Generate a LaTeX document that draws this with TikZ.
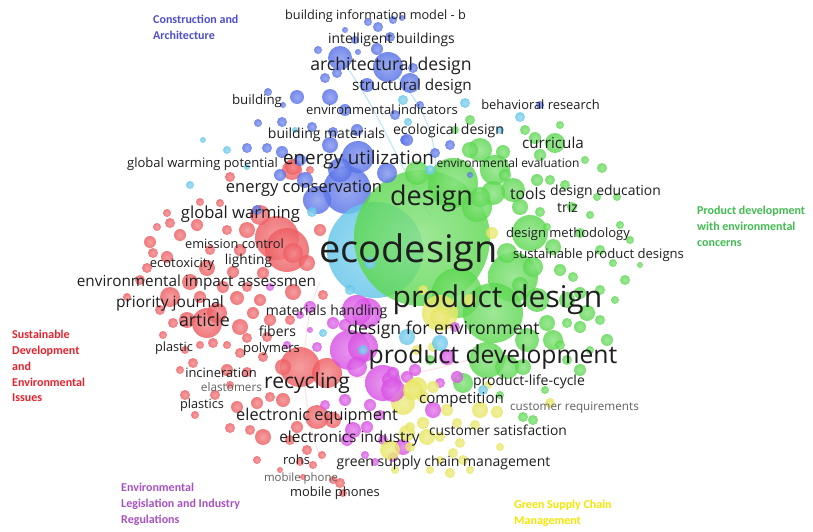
\documentclass[tikz,border=0pt]{standalone}
\usepackage{fontspec}
\usepackage{xcolor}
\usepackage{tikz}
\setmainfont{Open Sans}
\newfontfamily\clusterfont{Carlito}

\definecolor{vosred}{RGB}{238,92,96}
\definecolor{vosblue}{RGB}{86,112,232}
\definecolor{vosgreen}{RGB}{92,216,80}
\definecolor{vosyellow}{RGB}{232,230,96}
\definecolor{vospurple}{RGB}{216,80,228}
\definecolor{voscyan}{RGB}{100,198,234}
\definecolor{kwtext}{RGB}{30,30,30}
\definecolor{kwgrey}{RGB}{96,96,96}
\definecolor{cltblue}{RGB}{78,78,204}
\definecolor{cltred}{RGB}{232,34,44}
\definecolor{cltgreen}{RGB}{64,188,80}
\definecolor{cltpurple}{RGB}{168,82,194}
\definecolor{cltyellow}{RGB}{244,230,0}

\tikzset{
  bubble/.style={inner color=#1!72!white, outer color=#1, opacity=0.82},
  kw/.style={font=\fontsize{#1}{#1}\selectfont, text=kwtext, inner sep=0pt,
    anchor=base, yshift=-1.5pt},
  kwlight/.style={kw=#1, text=kwgrey},
  cluster/.style={font=\clusterfont\bfseries\fontsize{12}{15.8}\selectfont,
    align=left, inner sep=0pt, anchor=north west},
  link/.style={draw=#1, line width=1.2pt, opacity=0.4}
}

\begin{document}
\begin{tikzpicture}[x=1pt,y=-1pt]
\fill[white] (0,0) rectangle (813,532);
\useasboundingbox (0,0) rectangle (813,532);

% faint links
\coordinate (archd) at (388,67);
\coordinate (archl) at (340,58);
\coordinate (ecod) at (430,215);
\coordinate (recyc) at (300,367);
\coordinate (proddev) at (505,352);
\coordinate (eia) at (320,282);
\coordinate (mobile) at (322,462);
\draw[link=voscyan] (archd) .. controls (430,110) and (445,150) .. (ecod);
\draw[link=voscyan] (archl) .. controls (380,110) and (395,160) .. (ecod);
\draw[link=vosred!40] (recyc) .. controls (390,395) and (450,360) .. (proddev);
\draw[link=vosred!40] (eia) .. controls (298,330) and (300,410) .. (mobile);

% large bubbles
\foreach \x/\y/\r in {277/238/22, 287/250/22, 300/367/20, 327/373/15, 207/323/15}
  \shade[bubble=vosred] (\x,\y) circle [radius=\r pt];
\foreach \x/\y/\r in {347/190/24, 358/157/16, 388/67/15, 317/200/14, 340/58/12, 340/170/12}
  \shade[bubble=vosblue] (\x,\y) circle [radius=\r pt];
\shade[bubble=voscyan] (375,250) circle [radius=48pt];
\foreach \x/\y/\r in {422/238/68, 453/183/25, 457/293/25, 513/277/25, 493/313/30, 487/360/18, 530/233/18}
  \shade[bubble=vosgreen] (\x,\y) circle [radius=\r pt];
\foreach \x/\y/\r in {350/350/20, 383/383/18, 367/313/15, 363/347/15, 357/310/15}
  \shade[bubble=vospurple] (\x,\y) circle [radius=\r pt];
\foreach \x/\y/\r in {440/313/18, 403/403/12}
  \shade[bubble=vosyellow] (\x,\y) circle [radius=\r pt];

% small bubbles
\foreach \x/\y/\r in {230/177/5, 292/170/10, 310/170/4, 293/167/8, 167/213/4, 200/202/4,
  220/203/4, 157/227/4, 170/223/5, 180/235/6, 150/242/6, 197/225/6, 227/230/5, 247/230/8,
  263/273/6, 293/253/10, 307/263/8, 153/253/5, 167/257/6, 147/268/5, 207/268/8, 233/272/6,
  190/282/8, 223/287/6, 247/287/5, 140/280/5, 127/297/4, 170/297/10, 200/297/6, 237/298/7,
  260/300/6, 293/292/8, 323/295/5, 217/313/10, 187/320/8, 240/327/8, 253/313/6, 163/335/4,
  173/323/5, 200/345/4, 213/343/5, 227/345/4, 247/338/5, 267/337/5, 240/353/5, 263/357/5,
  180/370/4, 193/363/5, 227/370/6, 247/372/5, 283/367/8, 237/407/6, 257/403/6, 270/397/5,
  283/400/7, 317/417/12, 333/420/8, 263/437/8, 250/430/5, 230/428/5, 290/440/5, 307/450/5,
  322/455/4, 297/427/6, 333/480/4, 340/483/5, 343/493/4, 303/477/3, 260/215/10, 240/250/6,
  210/250/5, 185/395/5, 215/395/5, 195/415/4, 230/385/4, 185/350/4, 160/310/5, 320/230/6,
  270/320/6, 290/320/5, 257/460/4, 300/462/4, 280/470/3, 313/465/4}
  \shade[bubble=vosred] (\x,\y) circle [radius=\r pt];
\foreach \x/\y/\r in {368/22/4, 378/27/5, 393/20/4, 402/18/3, 377/49/6, 390/37/5, 318/50/4,
  358/52/3, 325/78/5, 337/73/5, 413/68/5, 410/83/10, 367/85/7, 297/97/7, 330/97/8, 268/92/4,
  283/105/3, 258/123/4, 282/122/5, 312/127/5, 357/130/6, 333/132/5, 405/140/5, 247/148/5,
  267/148/5, 282/152/6, 387/173/10, 407/140/6, 450/145/5, 435/153/5, 470/175/3, 540/105/4,
  257/210/5, 305/180/8, 330/145/8, 345/110/6, 300/160/6, 280/175/6, 395/115/5, 420/105/4,
  355/40/4, 345/30/3}
  \shade[bubble=vosblue] (\x,\y) circle [radius=\r pt];
\foreach \x/\y/\r in {417/173/12, 525/130/5, 555/143/10, 535/138/6, 480/150/12, 470/150/8,
  503/152/7, 495/170/15, 602/168/5, 537/180/6, 550/180/5, 513/190/12, 493/193/12, 477/207/15,
  520/207/8, 540/212/5, 597/197/4, 617/197/4, 572/207/5, 507/253/10, 547/227/4, 553/247/8,
  580/233/5, 600/250/5, 613/263/4, 533/267/10, 560/270/6, 573/277/5, 537/300/12, 567/300/8,
  580/293/6, 587/313/8, 600/320/5, 607/340/6, 580/327/6, 547/323/8, 567/323/5, 553/340/10,
  527/340/12, 507/367/12, 523/367/8, 580/370/6, 567/360/5, 463/383/10, 523/417/5, 533/420/5,
  480/197/10, 540/155/6, 560/125/4, 585/160/4, 620/225/4, 630/240/4, 625/280/5, 640/265/3,
  600/290/5, 615/300/4, 560/345/5, 590/350/4, 545/390/4, 500/395/4, 470/120/5, 455/130/4,
  430/360/5, 520/285/8, 590/215/4, 565/185/5, 505/175/6}
  \shade[bubble=vosgreen] (\x,\y) circle [radius=\r pt];
\foreach \x/\y/\r in {310/307/6, 333/323/6, 317/347/5, 357/367/10, 390/380/8, 440/383/5,
  353/430/8, 367/427/6, 347/440/6, 383/440/5, 403/447/8, 447/357/8, 393/373/6, 393/390/12,
  407/377/6, 457/377/6, 433/410/8, 393/457/5, 455/327/5, 270/287/4, 325/405/5, 345/400/6,
  370/405/6, 380/415/5, 415/370/6, 345/325/6, 300/315/4, 287/345/4, 310/330/3, 365/455/4,
  375/462/4}
  \shade[bubble=vospurple] (\x,\y) circle [radius=\r pt];
\foreach \x/\y/\r in {492/233/6, 417/387/10, 423/397/6, 417/350/5, 413/390/10, 433/387/6,
  447/410/6, 480/410/8, 497/412/6, 457/423/5, 423/423/6, 407/433/8, 440/437/5, 460/443/5,
  550/403/5, 453/453/5, 463/460/5, 450/473/5, 410/447/5, 433/347/5, 423/290/5, 440/317/10,
  390/450/10, 410/427/5, 427/437/8, 470/300/6, 475/425/5, 440/460/4, 500/447/4, 430/470/4,
  395/470/4, 470/470/4, 488/385/4}
  \shade[bubble=vosyellow] (\x,\y) circle [radius=\r pt];
\foreach \x/\y/\r in {203/140/3, 227/150/4, 247/167/3, 190/185/4, 465/103/5, 520/117/5,
  403/100/5, 483/390/5, 440/343/8, 407/337/8, 323/333/4, 363/350/5, 350/290/5, 370/263/6,
  408/122/4, 295/130/3, 312/212/5, 430/170/5, 500/130/4}
  \shade[bubble=voscyan] (\x,\y) circle [radius=\r pt];

% keyword labels
\node[kw=12.7] (bim) at (375.5,18.4) {building information model - b};
\node[kw=13.9] (intell) at (391.5,41.8) {intelligent buildings};
\node[kw=17.6] (archdes) at (391,68.8) {architectural design};
\node[kw=15.3] (structdes) at (412,89.1) {structural design};
\node[kw=13.3] (building) at (257,102.6) {building};
\node[kw=13] (envind) at (382,112.5) {environmental indicators};
\node[kw=12.9] (behav) at (540.5,108.5) {behavioral research};
\node[kw=14] (buildmat) at (326.5,136.8) {building materials};
\node[kw=14] (ecolog) at (448.5,132.8) {ecological design};
\node[kw=15.2] (curric) at (553,147.1) {curricula};
\node[kw=13] (gwp) at (202.5,165.5) {global warming potential};
\node[kw=18.8] (energyutil) at (358.5,163.1) {energy utilization};
\node[kw=12] (enveval) at (508,166.2) {environmental evaluation};
\node[kw=16.5] (energycons) at (304,190.5) {energy conservation};
\node[kw=27] (design) at (431.5,204.3) {design};
\node[kw=15.7] (tools) at (528,198.2) {tools};
\node[kw=13.9] (desedu) at (605.5,193.8) {design education};
\node[kw=14] (triz) at (567.5,210.8) {triz};
\node[kw=16.6] (gw) at (240.5,216.5) {global warming};
\node[kw=38] (ecodesign) at (408.5,261) {ecodesign};
\node[kw=13] (desmeth) at (568,235.5) {design methodology};
\node[kw=13.1] (sustprod) at (598.5,256.5) {sustainable product designs};
\node[kw=12.8] (emission) at (234.5,246.5) {emission control};
\node[kw=13] (ecotox) at (182,265.5) {ecotoxicity};
\node[kw=13.7] (lighting) at (248.5,262.7) {lighting};
\node[kw=15.3] (envimpact) at (196.5,285.1) {environmental impact assessmen};
\node[kw=30] (proddes) at (497.5,306) {product design};
\node[kw=15.5] (priority) at (170,306.2) {priority journal};
\node[kw=14] (mathand) at (326.5,313.8) {materials handling};
\node[kw=17.8] (article) at (204.5,324.8) {article};
\node[kw=17.6] (dfe) at (443.5,332.8) {design for environment};
\node[kw=14] (fibers) at (277.5,334.8) {fibers};
\node[kw=12.7] (plastic) at (174,350.4) {plastic};
\node[kw=13.1] (polymers) at (271.5,350.5) {polymers};
\node[kw=24.7] (proddevel) at (493,361.7) {product development};
\node[kw=14] (plc) at (529,383.8) {product-life-cycle};
\node[kw=12.9] (incin) at (221,375.5) {incineration};
\node[kwlight=11.8] (elast) at (231.5,390.2) {elastomers};
\node[kw=21] (recycling) at (307,386.7) {recycling};
\node[kw=12.7] (plastics) at (202,407.4) {plastics};
\node[kw=15.1] (compet) at (461.5,402.1) {competition};
\node[kwlight=11.7] (custreq) at (574.5,409.2) {customer requirements};
\node[kw=16.3] (elecequip) at (317,419.4) {electronic equipment};
\node[kw=13.8] (custsat) at (498,433.7) {customer satisfaction};
\node[kw=15.4] (elecind) at (349.5,441.2) {electronics industry};
\node[kw=12.9] (rohs) at (296.5,462.5) {rohs};
\node[kw=14] (gscm) at (443.5,464.8) {green supply chain management};
\node[kwlight=11.4] (mobphone) at (301,480.1) {mobile phone};
\node[kw=12.9] (mobphones) at (335,494.5) {mobile phones};

% cluster labels
\node[cluster, text=cltblue] (cconstr) at (153,15) {Construction and\\Architecture};
\node[cluster, text=cltgreen] (cproddev) at (697,206) {Product development\\with environmental\\concerns};
\node[cluster, text=cltred] (csust) at (12,330) {Sustainable\\Development\\and\\Environmental\\Issues};
\node[cluster, text=cltpurple] (clegis) at (121,483) {Environmental\\Legislation and Industry\\Regulations};
\node[cluster, text=cltyellow] (cgscm) at (514,500) {Green Supply Chain\\Management};
\end{tikzpicture}
\end{document}
